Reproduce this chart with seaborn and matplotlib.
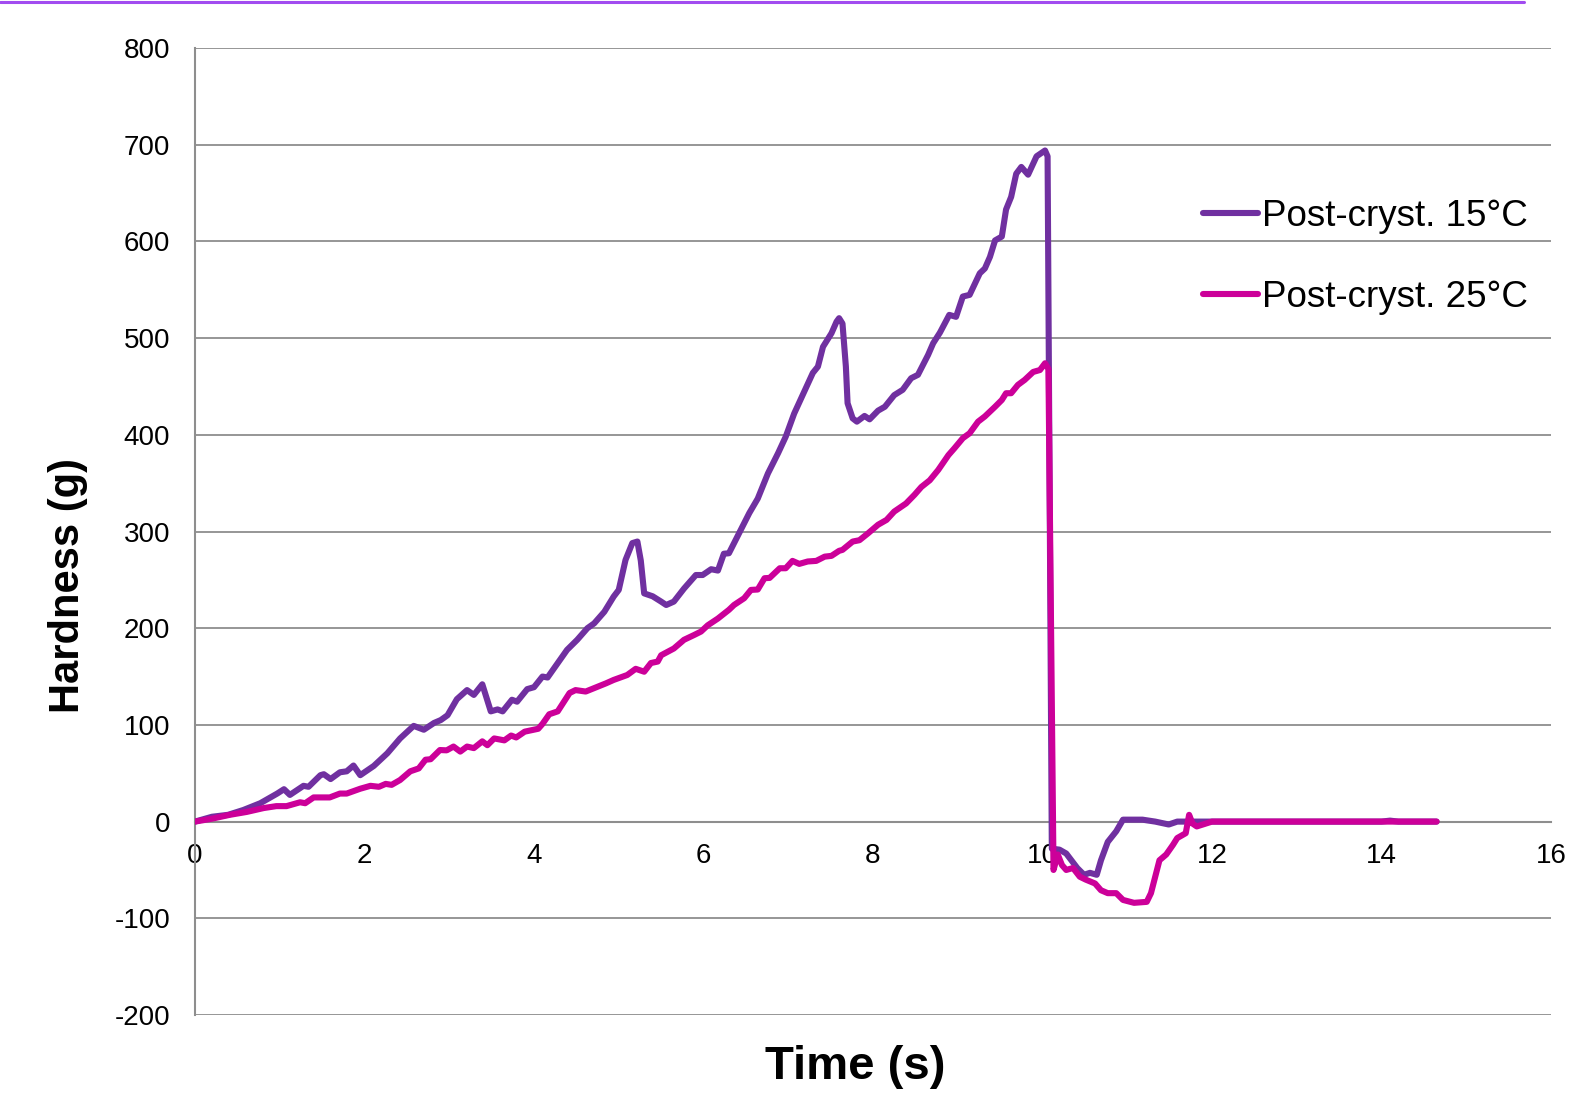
import matplotlib
matplotlib.use("Agg")
import matplotlib.pyplot as plt
from matplotlib.ticker import MultipleLocator
from matplotlib.lines import Line2D
import seaborn as sns
import pandas as pd

# ---------------- data ----------------
label_15 = "Post-cryst. 15°C"
label_25 = "Post-cryst. 25°C"

time_15 = [0, 0.2, 0.39, 0.57, 0.77, 0.97, 1.05, 1.12, 1.28, 1.34,
           1.48, 1.52, 1.6, 1.71, 1.79, 1.87, 1.95, 2.11, 2.27, 2.42,
           2.58, 2.70, 2.82, 2.9, 2.98, 3.09, 3.21, 3.29, 3.39, 3.49,
           3.57, 3.63, 3.74, 3.80, 3.92, 4.0, 4.1, 4.16, 4.28, 4.39,
           4.51, 4.63, 4.71, 4.83, 4.94, 5.0, 5.08, 5.16, 5.22, 5.26,
           5.30, 5.40, 5.50, 5.56, 5.65, 5.77, 5.91, 5.99, 6.09, 6.17,
           6.24, 6.30, 6.44, 6.54, 6.64, 6.76, 6.88, 6.97, 7.07, 7.19,
           7.29, 7.35, 7.41, 7.51, 7.57, 7.60, 7.64, 7.68, 7.70, 7.76,
           7.81, 7.90, 7.96, 8.06, 8.14, 8.25, 8.35, 8.45, 8.53, 8.65,
           8.71, 8.79, 8.90, 8.98, 9.06, 9.14, 9.26, 9.32, 9.38, 9.44,
           9.52, 9.57, 9.63, 9.69, 9.75, 9.83, 9.93, 10.03, 10.06, 10.11,
           10.2, 10.28, 10.41, 10.49, 10.56, 10.64, 10.69, 10.77, 10.87, 10.95,
           11.18, 11.33, 11.49, 11.59, 12.0, 13.0, 14.0, 14.1, 14.2, 14.65]
hardness_15 = [0, 5, 7, 12, 19, 29, 33.5, 27.6, 37, 36,
               48, 49, 44, 51, 52, 58, 48, 57.6, 70.7, 86,
               99, 95, 102, 105, 110, 126.6, 136, 131, 142, 114,
               116, 114, 126, 124, 137, 139, 150, 149, 164, 177.6,
               188, 200, 205, 217, 232.7, 239.6, 270.6, 288, 289.6, 270,
               236, 233, 227.5, 224, 227.5, 241, 255, 255, 261, 259.6,
               277, 277.5, 301.7, 319, 334, 360, 381, 398, 422, 445,
               464, 470.5, 491, 505, 517, 520.6, 515, 470.5, 432.7, 417,
               413.6, 419.5, 416, 425, 429, 441, 446.5, 458.5, 462, 482.6,
               494.7, 505.7, 524, 522, 543, 544.7, 567, 572, 584, 601,
               605, 633, 646, 670, 677, 669, 688, 694, 688, -28,
               -29, -33, -48, -55, -53, -55, -40, -21, -10, 2,
               2, 0, -3, 0, 0, 0, 0, 1, 0, 0]

time_25 = [0, 0.2, 0.41, 0.61, 0.81, 0.96, 1.08, 1.24, 1.3, 1.4,
           1.59, 1.71, 1.79, 1.95, 2.07, 2.17, 2.25, 2.32, 2.42, 2.54,
           2.64, 2.72, 2.78, 2.89, 2.97, 3.05, 3.13, 3.21, 3.29, 3.39,
           3.45, 3.53, 3.65, 3.73, 3.79, 3.89, 4.05, 4.1, 4.18, 4.28,
           4.42, 4.49, 4.61, 4.71, 4.85, 4.94, 5.1, 5.2, 5.3, 5.38,
           5.46, 5.5, 5.65, 5.77, 5.89, 5.97, 6.05, 6.17, 6.30, 6.36,
           6.48, 6.56, 6.64, 6.72, 6.78, 6.90, 6.97, 7.05, 7.13, 7.23,
           7.33, 7.43, 7.51, 7.60, 7.64, 7.76, 7.84, 7.94, 8.06, 8.16,
           8.25, 8.39, 8.49, 8.57, 8.67, 8.77, 8.89, 8.96, 9.06, 9.14,
           9.24, 9.32, 9.44, 9.52, 9.57, 9.63, 9.71, 9.79, 9.89, 9.97,
           10.03, 10.07, 10.13, 10.18, 10.23, 10.28, 10.36, 10.44, 10.51, 10.62,
           10.69, 10.77, 10.87, 10.95, 11.08, 11.23, 11.28, 11.38, 11.46, 11.54,
           11.59, 11.69, 11.73, 11.77, 11.82, 12.0, 13.0, 14.0, 14.65]
hardness_25 = [0, 3, 7, 10, 14, 16, 16, 20, 19, 25,
               25, 29, 29, 34, 37, 36, 39, 38, 43, 52,
               55, 64, 64.5, 74, 73.7, 77.6, 72.4, 77.6, 76, 83,
               79, 86, 84, 89, 87, 93, 96, 101, 111, 114,
               133, 136, 134.5, 138, 143, 146.5, 151.6, 158, 155, 164,
               165.5, 172, 179, 188, 193, 196.5, 203, 210, 219, 224,
               231, 239.6, 240, 251.7, 252, 262, 262, 269.6, 266.5, 269,
               269.6, 274, 274.8, 280, 281, 289.6, 291, 298, 307, 312,
               320.6, 329, 338, 346, 353, 363.7, 379, 386, 396.5, 401.6,
               413.6, 419, 429, 436, 443, 443, 451.6, 456.8, 465, 467,
               474, 468, -50, -34, -45, -50, -48, -57, -60, -64,
               -71, -74, -74, -81, -84, -83, -74, -40, -34, -24,
               -17, -12, 7, -2, -5, 0, 0, 0, 0]

x_ticks = [0, 2, 4, 6, 8, 10, 12, 14, 16]
y_ticks = [-200, -100, 0, 100, 200, 300, 400, 500, 600, 700, 800]

assert len(time_15) == len(hardness_15)
assert len(time_25) == len(hardness_25)

# ---------------- style ----------------
sns.set_style("white")
plt.rcParams["font.family"] = ["Liberation Sans", "DejaVu Sans"]
plt.rcParams["axes.unicode_minus"] = False
plt.rcParams["text.color"] = "black"

color_15 = "#7030A0"
color_25 = "#CC0099"
grid_color = "#8E8E8E"
line_w = 4.4

W, H = 1579, 1098
fig = plt.figure(figsize=(W / 100, H / 100), dpi=100)
ax_left, ax_right, ax_top, ax_bottom = 195, 1551, 48, 1015
ax = fig.add_axes([ax_left / W, 1 - ax_bottom / H,
                   (ax_right - ax_left) / W, (ax_bottom - ax_top) / H])

df = pd.concat([
    pd.DataFrame({"Time": time_15, "Hardness": hardness_15, "Series": label_15}),
    pd.DataFrame({"Time": time_25, "Hardness": hardness_25, "Series": label_25}),
], ignore_index=True)

sns.lineplot(data=df, x="Time", y="Hardness", hue="Series",
             hue_order=[label_15, label_25], palette=[color_15, color_25],
             sort=False, estimator=None, linewidth=line_w, ax=ax,
             solid_joinstyle="round", solid_capstyle="round", zorder=3)
for ln in ax.lines:
    ln.set_linewidth(line_w)

ax.set_xlim(0, 16)
ax.set_ylim(-200, 800)
ax.set_xticks(x_ticks)
ax.set_yticks(y_ticks)
ax.xaxis.set_minor_locator(MultipleLocator(0.4))
ax.yaxis.set_minor_locator(MultipleLocator(20))

ax.yaxis.grid(True, color=grid_color, linewidth=1.3)
ax.xaxis.grid(False)
ax.set_axisbelow(True)

for s in ["top", "right"]:
    ax.spines[s].set_visible(False)
ax.spines["bottom"].set_position(("data", 0))
for s in ["left", "bottom"]:
    ax.spines[s].set_color(grid_color)
    ax.spines[s].set_linewidth(1.5)

ax.tick_params(axis="x", which="major", direction="inout", length=9.4, width=1.2,
               color=grid_color, labelsize=20, pad=11, labelcolor="black")
ax.tick_params(axis="x", which="minor", direction="in", length=5, width=1.0,
               color=grid_color)
ax.tick_params(axis="y", which="major", direction="out", length=5.8, width=1.2,
               color=grid_color, labelsize=20, pad=12, labelcolor="black")
ax.tick_params(axis="y", which="minor", direction="in", length=3.6, width=1.0,
               color=grid_color)

ax.set_xlabel("Time (s)", fontsize=34, fontweight="bold", color="black")
ax.set_ylabel("Hardness (g)", fontsize=30, fontweight="bold", color="black")
ax.xaxis.set_label_coords(0.487, -0.031)
ax.yaxis.set_label_coords(-0.079, 0.444)

handles, labels = ax.get_legend_handles_labels()
for h in handles:
    h.set_linewidth(line_w)
leg = ax.legend(handles, labels, loc="center left", bbox_to_anchor=(0.743, 0.784),
                frameon=False, fontsize=26.5, handlelength=1.5, handletextpad=0.12,
                labelspacing=1.25, borderpad=0, borderaxespad=0)
for t in leg.get_texts():
    t.set_color("black")

# decorative purple rule at the very top of the slide crop
fig.add_artist(Line2D([0.0, 0.965], [0.9985, 0.9985], transform=fig.transFigure,
                      color="#A24CF0", linewidth=2.2))

fig.savefig("out.png", dpi=100, facecolor="white")
